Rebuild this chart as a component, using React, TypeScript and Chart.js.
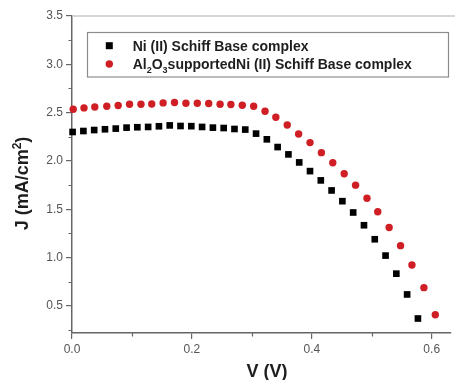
import React, { useEffect, useRef } from 'react';
import { Chart, registerables } from 'chart.js';

Chart.register(...registerables);

// ---- data ----
const voltageNi = [0.001, 0.019, 0.037, 0.055, 0.073, 0.091, 0.109, 0.127, 0.145, 0.163, 0.181, 0.199, 0.217, 0.235, 0.253, 0.271, 0.289, 0.307, 0.325, 0.343, 0.361, 0.379, 0.397, 0.415, 0.433, 0.451, 0.469, 0.487, 0.505, 0.523, 0.541, 0.559, 0.577];
const currentNi = [2.30, 2.31, 2.32, 2.328, 2.335, 2.345, 2.349, 2.352, 2.359, 2.368, 2.362, 2.36, 2.352, 2.345, 2.341, 2.331, 2.325, 2.283, 2.224, 2.144, 2.068, 1.985, 1.895, 1.799, 1.695, 1.584, 1.467, 1.335, 1.190, 1.021, 0.834, 0.619, 0.370];

const voltageAl = [0.002, 0.020, 0.038, 0.058, 0.077, 0.096, 0.115, 0.133, 0.152, 0.171, 0.190, 0.209, 0.228, 0.247, 0.265, 0.284, 0.303, 0.322, 0.340, 0.359, 0.378, 0.397, 0.416, 0.435, 0.454, 0.473, 0.492, 0.510, 0.529, 0.548, 0.567, 0.587, 0.606];
const currentAl = [2.535, 2.549, 2.559, 2.566, 2.574, 2.587, 2.587, 2.590, 2.601, 2.605, 2.598, 2.597, 2.594, 2.587, 2.584, 2.577, 2.566, 2.515, 2.452, 2.372, 2.279, 2.190, 2.086, 1.982, 1.868, 1.750, 1.615, 1.474, 1.311, 1.124, 0.924, 0.689, 0.409];

const seriesNames = ['Ni (II) Schiff Base complex', 'Al2O3supportedNi (II) Schiff Base complex'];
// legend text pieces for the second series: [text, isSubscript]
const legendPiecesAl: [string, boolean][] = [['Al', false], ['2', true], ['O', false], ['3', true], ['supportedNi (II) Schiff Base complex', false]];

const xMin = 0;
const xMax = 0.631;
const xStep = 0.2;
const xMinorTicks = [0.1, 0.3, 0.5];
const yMin = 0.22;
const yMax = 3.5;
const yStep = 0.5;
const yMinorTicks = [0.25, 0.75, 1.25, 1.75, 2.25, 2.75, 3.25];

const xTitle = 'V (V)';
const yTitleMain = 'J (mA/cm';
const yTitleSup = '2';
const yTitleEnd = ')';

const FONT = '"Liberation Sans", Arial, Helvetica, sans-serif';
const RED = '#cf1f24';
const BLACK = '#000000';

const decorPlugin = {
  id: 'decor',
  afterDraw(chart: any) {
    const { ctx, chartArea: ca, scales } = chart;
    const xs = scales.x;
    const ys = scales.y;
    ctx.save();

    // top frame line
    ctx.strokeStyle = '#c8c8c8';
    ctx.lineWidth = 1.5;
    ctx.beginPath();
    ctx.moveTo(ca.left, ca.top);
    ctx.lineTo(chart.width, ca.top);
    ctx.stroke();

    // minor ticks
    ctx.strokeStyle = '#666';
    ctx.lineWidth = 1.2;
    ctx.beginPath();
    for (const v of yMinorTicks) {
      const py = Math.round(ys.getPixelForValue(v)) + 0.5;
      ctx.moveTo(ca.left - 3.5, py);
      ctx.lineTo(ca.left, py);
    }
    for (const v of xMinorTicks) {
      const px = Math.round(xs.getPixelForValue(v)) + 0.5;
      ctx.moveTo(px, ca.bottom);
      ctx.lineTo(px, ca.bottom + 3.5);
    }
    ctx.stroke();

    // axis titles
    ctx.fillStyle = '#1e1e1e';
    ctx.textBaseline = 'alphabetic';
    ctx.textAlign = 'left';
    ctx.font = `bold 18px ${FONT}`;
    const xw = ctx.measureText(xTitle).width;
    ctx.fillText(xTitle, 267 - xw / 2, 377);

    ctx.save();
    ctx.translate(28, 183.5);
    ctx.rotate(-Math.PI / 2);
    ctx.font = `bold 18px ${FONT}`;
    const w1 = ctx.measureText(yTitleMain).width;
    const w3 = ctx.measureText(yTitleEnd).width;
    ctx.font = `bold 12px ${FONT}`;
    const w2 = ctx.measureText(yTitleSup).width;
    let tx = -(w1 + w2 + w3) / 2;
    ctx.font = `bold 18px ${FONT}`;
    ctx.fillText(yTitleMain, tx, 0);
    tx += w1;
    ctx.font = `bold 12px ${FONT}`;
    ctx.fillText(yTitleSup, tx, -7);
    tx += w2;
    ctx.font = `bold 18px ${FONT}`;
    ctx.fillText(yTitleEnd, tx, 0);
    ctx.restore();

    // legend box
    ctx.strokeStyle = '#8c8c8c';
    ctx.lineWidth = 1.2;
    ctx.strokeRect(87.5, 32.5, 361, 44.5);

    // legend markers
    ctx.fillStyle = BLACK;
    ctx.fillRect(109.3 - 3.5, 45.7 - 3.5, 7, 7);
    ctx.fillStyle = RED;
    ctx.beginPath();
    ctx.arc(109.3, 64, 3.7, 0, Math.PI * 2);
    ctx.fill();

    // legend texts
    ctx.fillStyle = '#1e1e1e';
    ctx.textBaseline = 'alphabetic';
    ctx.font = `bold 14px ${FONT}`;
    ctx.fillText(seriesNames[0], 132.7, 50.8);
    let lx = 132.7;
    for (const [t, sub] of legendPiecesAl) {
      ctx.font = sub ? `bold 9px ${FONT}` : `bold 14px ${FONT}`;
      ctx.fillText(t, lx, sub ? 72.5 : 69.1);
      lx += ctx.measureText(t).width;
    }

    ctx.restore();
  },
};

export default function App() {
  const canvasRef = useRef<HTMLCanvasElement | null>(null);

  useEffect(() => {
    if (!canvasRef.current) return;
    const chart = new Chart(canvasRef.current, {
      type: 'scatter',
      data: {
        datasets: [
          {
            label: seriesNames[0],
            data: voltageNi.map((v, i) => ({ x: v, y: currentNi[i] })),
            pointStyle: 'rect',
            pointRadius: 4.7,
            pointBackgroundColor: BLACK,
            pointBorderWidth: 0,
            borderColor: BLACK,
            backgroundColor: BLACK,
            showLine: false,
            clip: false,
          } as any,
          {
            label: seriesNames[1],
            data: voltageAl.map((v, i) => ({ x: v, y: currentAl[i] })),
            pointStyle: 'circle',
            pointRadius: 3.7,
            pointBackgroundColor: RED,
            pointBorderWidth: 0,
            borderColor: RED,
            backgroundColor: RED,
            showLine: false,
            clip: false,
          } as any,
        ],
      },
      options: {
        responsive: false,
        animation: false,
        devicePixelRatio: 1,
        layout: { padding: { top: 16, left: 0, right: 0, bottom: 0 } },
        plugins: {
          legend: { display: false },
          tooltip: { enabled: false },
          title: { display: false },
        },
        scales: {
          x: {
            type: 'linear',
            min: xMin,
            max: xMax,
            ticks: {
              stepSize: xStep,
              includeBounds: false,
              color: '#555',
              font: { family: FONT, size: 12 },
              padding: 3,
              maxRotation: 0,
              callback: (v: any) => Number(v).toFixed(1),
            },
            grid: { drawOnChartArea: false, drawTicks: true, tickLength: 6, color: '#666', lineWidth: 1.2 },
            border: { display: true, color: '#666', width: 1.5 },
            afterFit: (s: any) => { s.height = 47; s.paddingRight = 0; s.paddingLeft = 0; },
          },
          y: {
            type: 'linear',
            min: yMin,
            max: yMax,
            ticks: {
              stepSize: yStep,
              includeBounds: false,
              color: '#555',
              font: { family: FONT, size: 12 },
              padding: 3,
              callback: (v: any) => Number(v).toFixed(1),
            },
            grid: { drawOnChartArea: false, drawTicks: true, tickLength: 6, color: '#666', lineWidth: 1.2 },
            border: { display: true, color: '#666', width: 1.5 },
            afterFit: (s: any) => { s.width = 72; s.paddingTop = 0; s.paddingBottom = 0; },
          },
        },
      } as any,
      plugins: [decorPlugin],
    });
    return () => chart.destroy();
  }, []);

  return (
    <div style={{ position: 'fixed', left: 0, top: 0, width: 455, height: 380, background: '#fff' }}>
      <canvas ref={canvasRef} width={455} height={380} style={{ width: 455, height: 380, display: 'block' }} />
    </div>
  );
}
